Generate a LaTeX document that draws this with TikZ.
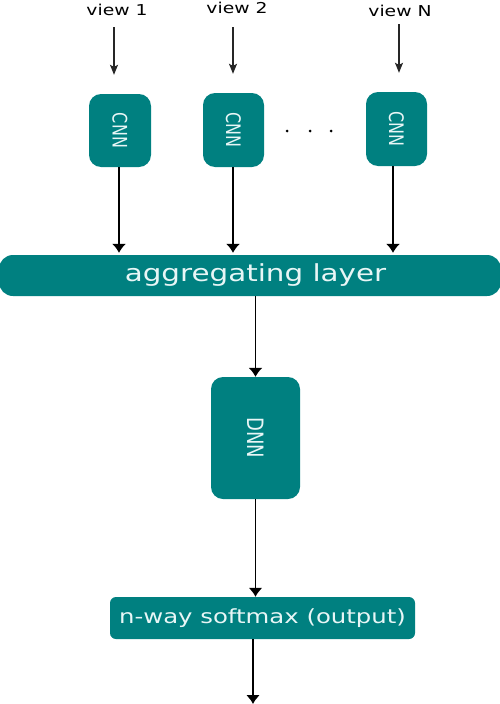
\documentclass[tikz,border=0pt]{standalone}
\usepackage{fontspec}
\setmainfont{DejaVu Sans}
\usetikzlibrary{arrows.meta}
\definecolor{tealbox}{RGB}{0,128,128}
\definecolor{boxtext}{RGB}{232,246,246}
\newcommand\widetxt[1]{\scalebox{1.25}[1]{#1}}
\newcommand\vtxt[1]{\scalebox{1.25}[1]{\rotatebox{-90}{#1}}}
\tikzset{
  box/.style={fill=tealbox, draw=none, rounded corners=12pt, inner sep=0pt, text=boxtext},
  viewlbl/.style={inner sep=0pt, font=\fontsize{15}{18}\selectfont},
  toparr/.style={draw=black!85, line width=1.1pt, -{Stealth[length=10pt,width=8pt,inset=2pt]}},
  mainarr/.style={draw=black, line width=1.3pt, -{Latex[length=9pt,width=14pt]}},
  thickarr/.style={mainarr, line width=1.7pt},
  dotmark/.style={circle, fill=black, inner sep=0pt, minimum size=3pt}
}
\begin{document}
\begin{tikzpicture}[x=1pt, y=-1pt]
\useasboundingbox (0,0) rectangle (500,704);
% view labels
\node[viewlbl] (v1) at (117,10) {\widetxt{view 1}};
\node[viewlbl] (v2) at (237,8) {\widetxt{view 2}};
\node[viewlbl] (vN) at (400,11) {\widetxt{view N}};
% CNN boxes
\node[box, minimum width=62pt, minimum height=73pt] (c1) at (120,130.5) {\fontsize{16}{16}\selectfont\vtxt{CNN}};
\node[box, minimum width=61pt, minimum height=74pt] (c2) at (233.5,130) {\fontsize{16}{16}\selectfont\vtxt{CNN}};
\node[box, minimum width=61pt, minimum height=74pt] (c3) at (396.5,129) {\fontsize{16}{16}\selectfont\vtxt{CNN}};
% dots
\node[dotmark] (d1) at (287,131) {};
\node[dotmark] (d2) at (310,131) {};
\node[dotmark] (d3) at (331,131) {};
% aggregating layer
\node[box, rounded corners=14pt, minimum width=502pt, minimum height=41pt] (agg) at (250,275.5) {\hspace*{11pt}\fontsize{23.5}{24}\selectfont\widetxt{aggregating layer}};
% DNN
\node[box, minimum width=89pt, minimum height=122pt] (dnn) at (255.5,438) {\fontsize{18}{18}\selectfont\vtxt{DNN}};
% softmax
\node[box, rounded corners=6pt, minimum width=305pt, minimum height=42pt] (sm) at (262.5,618) {\fontsize{19.5}{20}\selectfont\widetxt{n-way softmax (output)}};
% input arrows
\coordinate (a1) at (114,27);
\coordinate (a2) at (233,27);
\coordinate (aN) at (399,24);
\draw[toparr, shorten >=19pt] (a1) -- (a1 |- c1.north);
\draw[toparr, shorten >=19pt] (a2) -- (a2 |- c2.north);
\draw[toparr, shorten >=19pt] (aN) -- (aN |- c3.north);
% CNN to aggregating layer
\draw[mainarr, shorten >=2pt] ([xshift=-1pt]c1.south) -- ([xshift=-1pt]c1.south |- agg.north);
\draw[mainarr, shorten >=2pt] ([xshift=-0.5pt]c2.south) -- ([xshift=-0.5pt]c2.south |- agg.north);
\draw[mainarr, shorten >=2pt] ([xshift=-3.5pt]c3.south) -- ([xshift=-3.5pt]c3.south |- agg.north);
% aggregating to DNN
\draw[mainarr] (agg.south -| dnn) -- (dnn.north);
% DNN to softmax
\draw[thickarr] (dnn.south) -- (dnn.south |- sm.north);
% output
\coordinate (out) at (253,704);
\draw[thickarr] (sm.south -| out) -- (out);
\end{tikzpicture}
\end{document}
